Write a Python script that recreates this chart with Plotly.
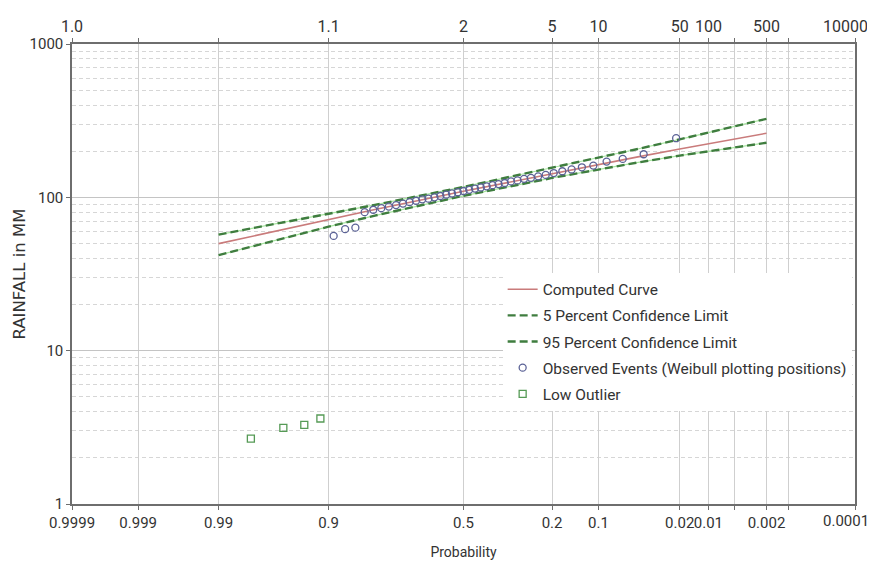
import plotly.graph_objects as go
from statistics import NormalDist

# ---------------- data ----------------
grid_prob = [0.9999, 0.999, 0.99, 0.9, 0.5, 0.2, 0.1, 0.02, 0.01, 0.005, 0.002, 0.001, 0.0001]
bottom_labels = ["0.9999", "0.999", "0.99", "0.9", "0.5", "0.2", "0.1", "0.02", "0.01", "", "0.002", "", "0.0001"]
top_labels = ["1.0", "", "", "1.1", "2", "5", "10", "50", "100", "", "500", "", "10000"]

curve_prob = [0.99, 0.95, 0.9, 0.8, 0.5, 0.2, 0.1, 0.05, 0.02, 0.01, 0.005, 0.002]
computed = [49.9, 63.3, 71.7, 83.2, 109.6, 143.2, 163.9, 182.9, 206.5, 223.6, 240.3, 261.8]
conf_5 = [57.1, 69.8, 77.9, 89.2, 116.9, 155.3, 181.0, 205.9, 238.9, 264.1, 290.0, 325.1]
conf_95 = [42.0, 55.7, 64.4, 76.0, 102.3, 133.8, 152.1, 168.2, 187.1, 200.0, 212.2, 227.0]

obs_prob = [0.0217, 0.0435, 0.0652, 0.0870, 0.1087, 0.1304, 0.1522, 0.1739, 0.1957, 0.2174,
            0.2391, 0.2609, 0.2826, 0.3043, 0.3261, 0.3478, 0.3696, 0.3913, 0.4130, 0.4348,
            0.4565, 0.4783, 0.5000, 0.5217, 0.5435, 0.5652, 0.5870, 0.6087, 0.6304, 0.6522,
            0.6739, 0.6957, 0.7174, 0.7391, 0.7609, 0.7826, 0.8043, 0.8261, 0.8478, 0.8696,
            0.8913]
obs_values = [243, 191, 178, 171, 161, 157, 152, 148, 144, 140,
              137, 134, 132, 129, 127, 124, 122, 120, 118, 116,
              114, 112, 110, 108, 106, 104, 102, 100, 98, 97,
              95, 93, 91, 89, 87, 85, 83, 80, 63.4, 62,
              56]

outlier_prob = [0.9130, 0.9348, 0.9565, 0.9783]
outlier_values = [3.61, 3.28, 3.14, 2.67]

y_ticks = [1, 10, 100, 1000]
y_minor = [2, 3, 4, 5, 6, 7, 8, 9, 20, 30, 40, 50, 60, 70, 80, 90,
           200, 300, 400, 500, 600, 700, 800, 900]

# ---------------- probability scale (normal) ----------------
ND = NormalDist()


def zpos(p):
    return ND.inv_cdf(1 - p)


gx = [zpos(p) for p in grid_prob]
xr = [zpos(0.9999), zpos(0.0001)]

FONT = "Roboto, sans-serif"
AX = "#6e6e6e"
TXT = "#333333"

fig = go.Figure()

cx = [zpos(p) for p in curve_prob]

fig.add_trace(go.Scatter(x=cx, y=computed, mode="lines", name="Computed Curve",
                         legendgroup="a", line=dict(color="#c97b7b", width=1.6)))
for vals, nm, g in [(conf_5, "5 Percent Confidence Limit", "b"),
                    (conf_95, "95 Percent Confidence Limit", "c")]:
    fig.add_trace(go.Scatter(x=cx, y=vals, mode="lines", showlegend=False, hoverinfo="skip",
                             line=dict(color="#a8e6a0", width=1.2)))
    fig.add_trace(go.Scatter(x=cx, y=vals, mode="lines", name=nm, legendgroup=g,
                             line=dict(color="#3f7d3f", width=2.4, dash="8px,4px")))

fig.add_trace(go.Scatter(x=[zpos(p) for p in obs_prob], y=obs_values, mode="markers",
                         name="Observed Events (Weibull plotting positions)", legendgroup="d",
                         marker=dict(symbol="circle-open", size=7, color="#5b6296",
                                     line=dict(width=1.3, color="#5b6296"))))
fig.add_trace(go.Scatter(x=[zpos(p) for p in outlier_prob], y=outlier_values, mode="markers",
                         name="Low Outlier", legendgroup="e",
                         marker=dict(symbol="square-open", size=7, color="#559a55",
                                     line=dict(width=1.3, color="#559a55"))))
# invisible trace to activate top axis
fig.add_trace(go.Scatter(x=[gx[0]], y=[1], xaxis="x2", mode="markers", showlegend=False,
                         hoverinfo="skip", marker=dict(opacity=0)))

# the edge labels sit at the right border; they are drawn as annotations nudged left
edge_bottom = bottom_labels[-1]
edge_top = top_labels[-1]
bl = bottom_labels[:-1] + [""]
tl = top_labels[:-1] + [""]

# page body has an 8px default margin; offsets compensate so the plot sits at 72..855 x 44..504
fig.update_layout(
    width=875, height=565,
    margin=dict(l=64, r=28, t=36, b=69),
    paper_bgcolor="white", plot_bgcolor="white",
    font=dict(family=FONT, size=16, color=TXT),
    xaxis=dict(range=xr, tickmode="array", tickvals=gx, ticktext=bl,
               tickangle=0, automargin=False, ticklabeloverflow="allow",
               showgrid=True, gridcolor="#cfcfcf", gridwidth=1,
               showline=True, linecolor=AX, linewidth=1.5, ticks="outside", ticklen=4,
               tickcolor=AX, zeroline=False,
               tickfont=dict(family=FONT, size=15, color=TXT),
               title=dict(text="Probability", font=dict(family=FONT, size=14, color=TXT),
                          standoff=16)),
    xaxis2=dict(range=xr, overlaying="x", side="top", tickmode="array", tickvals=gx,
                ticktext=tl, tickangle=0, automargin=False, ticklabeloverflow="allow",
                showgrid=False, showline=True,
                linecolor=AX, linewidth=1.5, ticks="outside", ticklen=4, tickcolor=AX,
                zeroline=False, tickfont=dict(family=FONT, size=16, color=TXT)),
    yaxis=dict(type="log", range=[0, 3], tickmode="array", tickvals=y_ticks,
               ticktext=[str(v) for v in y_ticks], automargin=False, ticklabeloverflow="allow",
               showgrid=True,
               gridcolor="#c4c4c4", gridwidth=1, showline=True, linecolor=AX, linewidth=1.5,
               mirror=True, ticks="outside", ticklen=4, tickcolor=AX, zeroline=False,
               minor=dict(tickmode="array", tickvals=y_minor, showgrid=True,
                          gridcolor="#d6d6d6", griddash="4px,3px", gridwidth=1, ticks=""),
               tickfont=dict(family=FONT, size=15, color=TXT),
               title=dict(text="RAINFALL in MM", font=dict(family="DejaVu Sans", size=16.5, color=TXT),
                          standoff=0)),
    legend=dict(x=0.55, y=0.503, xanchor="left", yanchor="top", bgcolor="white",
                borderwidth=0, tracegroupgap=3, itemwidth=30,
                font=dict(family=FONT, size=15.5, color=TXT)),
    showlegend=True,
    annotations=[
        dict(text=edge_bottom, x=gx[-1], xref="x", y=0, yref="paper", xanchor="center",
             yanchor="top", xshift=-9, yshift=-6, showarrow=False,
             font=dict(family=FONT, size=15, color=TXT)),
        dict(text=edge_top, x=gx[-1], xref="x", y=1, yref="paper", xanchor="center",
             yanchor="bottom", xshift=-10, yshift=6, showarrow=False,
             font=dict(family=FONT, size=16, color=TXT)),
    ],
)

fig.write_html("out.html")
